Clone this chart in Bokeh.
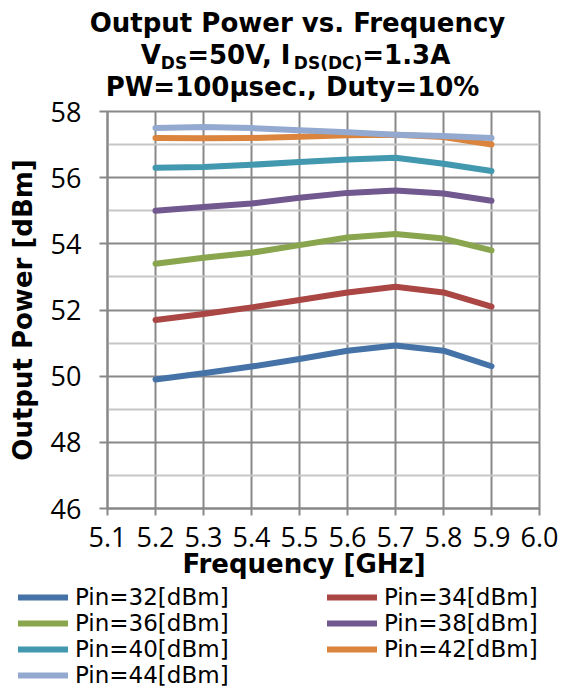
import math
from bokeh.plotting import figure
from bokeh.layouts import column
from bokeh.models import (Range1d, FixedTicker, Label, Legend, LegendItem,
                          PrintfTickFormatter)
from bokeh.embed import file_html
from bokeh.resources import INLINE

# ---------------- data ----------------
freq = [5.2, 5.3, 5.4, 5.5, 5.6, 5.7, 5.8, 5.9]
pin32 = [49.90, 50.09, 50.29, 50.52, 50.77, 50.93, 50.77, 50.30]
pin34 = [51.70, 51.88, 52.08, 52.30, 52.53, 52.70, 52.53, 52.10]
pin36 = [53.40, 53.58, 53.73, 53.96, 54.19, 54.30, 54.16, 53.80]
pin38 = [55.00, 55.11, 55.22, 55.39, 55.54, 55.61, 55.52, 55.30]
pin40 = [56.30, 56.32, 56.39, 56.47, 56.55, 56.60, 56.42, 56.20]
pin42 = [57.20, 57.19, 57.20, 57.24, 57.28, 57.30, 57.23, 57.00]
pin44 = [57.50, 57.53, 57.50, 57.43, 57.37, 57.30, 57.26, 57.20]

series_names = ["Pin=32[dBm]", "Pin=34[dBm]", "Pin=36[dBm]", "Pin=38[dBm]",
                "Pin=40[dBm]", "Pin=42[dBm]", "Pin=44[dBm]"]
series_values = [pin32, pin34, pin36, pin38, pin40, pin42, pin44]
series_colors = ["#4573A7", "#AA4643", "#89A54E", "#71588F",
                 "#4198AF", "#DB843D", "#93A9CF"]

x_ticks = [5.1, 5.2, 5.3, 5.4, 5.5, 5.6, 5.7, 5.8, 5.9, 6.0]
y_ticks = [46, 48, 50, 52, 54, 56, 58]
y_minor = [47, 49, 51, 53, 55, 57]

title_line1 = "Output Power vs. Frequency"
title_line3 = "PW=100\u03bcsec., Duty=10%"
x_title = "Frequency [GHz]"
y_title = "Output Power [dBm]"

# ---------------- layout constants (page pixels) ----------------
W = 569
HA = 104                  # title strip height
B_START = 90              # main chart canvas starts here (overlaps title strip)
FRAME_TOP = 111
B_TOP = FRAME_TOP - B_START
B_BOTTOM = 60
HB = B_TOP + 397 + B_BOTTOM
C_START = 550             # lower strip starts here (overlaps chart's empty bottom)
HC = 689 - C_START
LINE_W = 6
GRID = "#888888"
SHIFT = -9                # Label baseline correction
BOLD = dict(text_font="DejaVu Sans", text_font_style="bold", text_color="black",
            text_baseline="alphabetic", x_units="data", y_units="data")


def strip(height):
    f = figure(width=W, height=height, x_range=Range1d(0, W), y_range=Range1d(height, 0),
               output_backend="svg", toolbar_location=None,
               x_axis_location=None, y_axis_location=None,
               min_border=0, min_border_left=0, min_border_right=0,
               min_border_top=0, min_border_bottom=0)
    f.frame_align = False
    f.outline_line_color = None
    f.xgrid.visible = False
    f.ygrid.visible = False
    f.background_fill_alpha = 0
    f.border_fill_alpha = 0
    return f


# ---------------- title strip ----------------
pa = strip(HA)
pa.add_layout(Label(x=297, y=31.7 + SHIFT, text=title_line1, text_font_size="26px",
                    text_align="center", **BOLD))
pa.add_layout(Label(x=292, y=95 + SHIFT, text=title_line3, text_font_size="26px",
                    text_align="center", **BOLD))
MAIN, SUB = 26, 17
adv = {"V": 0.774, "D": 0.830, "S": 0.720, "=": 0.838, "0": 0.696, "1": 0.696,
       "3": 0.696, "5": 0.696, ",": 0.380, " ": 0.348, "I": 0.372, "(": 0.457,
       ")": 0.457, "C": 0.734, ".": 0.380, "A": 0.774}
pieces = [("V", MAIN, 0), ("DS", SUB, 1), ("=50V, I", MAIN, 0),
          ("DS(DC)", SUB, 1), ("=1.3A", MAIN, 0)]
widths = [sum(adv[c] for c in t) * s for t, s, _ in pieces]
cx = 295 - sum(widths) / 2
for (t, s, sub), w in zip(pieces, widths):
    base = (68.5 if sub else 63.3) + SHIFT * (s / MAIN)
    pa.add_layout(Label(x=cx, y=base, text=t,
                        text_font_size=f"{s}px", text_align="left", **BOLD))
    cx += w

# ---------------- main chart ----------------
p = figure(frame_width=432, frame_height=397,
           x_range=Range1d(5.1, 6.0), y_range=Range1d(46, 58),
           output_backend="svg", toolbar_location=None,
           min_border_left=107, min_border_right=30,
           min_border_top=B_TOP, min_border_bottom=B_BOTTOM)
p.frame_align = False
p.margin = (B_START - HA, 0, 0, 0)
p.background_fill_color = "white"
p.border_fill_alpha = 0

p.outline_line_color = GRID
p.outline_line_width = 2

xt = FixedTicker(ticks=x_ticks)
yt = FixedTicker(ticks=y_ticks, minor_ticks=y_minor)
p.xaxis.ticker = xt
p.yaxis.ticker = yt
p.xgrid.ticker = xt
p.ygrid.ticker = yt
p.xgrid.grid_line_color = GRID
p.xgrid.grid_line_width = 2
p.ygrid.grid_line_color = GRID
p.ygrid.grid_line_width = 2
p.ygrid.minor_grid_line_color = "#C6C6C6"
p.ygrid.minor_grid_line_width = 2

p.xaxis.formatter = PrintfTickFormatter(format="%.1f")
for ax in (p.xaxis, p.yaxis):
    ax.axis_line_color = GRID
    ax.axis_line_width = 2
    ax.major_tick_line_color = GRID
    ax.major_tick_line_width = 2
    ax.major_tick_in = 0
    ax.minor_tick_line_color = None
    ax.minor_tick_in = 0
    ax.minor_tick_out = 0
    ax.major_label_text_font = "Open Sans"
    ax.major_label_text_font_size = "27px"
    ax.major_label_text_color = "black"
p.xaxis.major_tick_out = 7
p.yaxis.major_tick_out = 8
p.xaxis.major_label_standoff = 11
p.yaxis.major_label_standoff = 18

p.yaxis.axis_label = y_title
p.yaxis.axis_label_text_font = "DejaVu Sans"
p.yaxis.axis_label_text_font_style = "bold"
p.yaxis.axis_label_text_font_size = "26px"
p.yaxis.axis_label_text_color = "black"
p.yaxis.axis_label_standoff = 10

for vals, col in zip(series_values, series_colors):
    p.line(freq, vals, line_width=LINE_W, color=col, line_cap="round", line_join="round")

# ---------------- x title + legend strip ----------------
pc = strip(HC)
pc.margin = (C_START - (B_START + HB), 0, 0, 0)
pc.add_layout(Label(x=303.5, y=572 - C_START + SHIFT, text=x_title,
                    text_font_size="26px", text_align="center", **BOLD))
leg_renderers = []
for vals, col in zip(series_values, series_colors):
    r = pc.line(freq, vals, line_width=LINE_W, color=col, line_cap="round")
    r.visible = False
    leg_renderers.append(r)
items = [LegendItem(label=n, renderers=[r]) for n, r in zip(series_names, leg_renderers)]
ROW = 26
common = dict(glyph_width=50, glyph_height=ROW, label_height=ROW, label_standoff=7,
              spacing=0, padding=0, margin=0, border_line_alpha=0,
              background_fill_alpha=0, label_text_font="DejaVu Sans",
              label_text_font_size="23px", label_text_color="black",
              label_text_baseline="middle", click_policy="none")
leg_top = 584 - C_START
leg1 = Legend(items=items[0::2], location=(18, HC - (leg_top + 4 * ROW)), **common)
leg2 = Legend(items=items[1::2], location=(327, HC - (leg_top + 3 * ROW)), **common)
pc.add_layout(leg1)
pc.add_layout(leg2)

layout = column(pa, p, pc, spacing=0)
open("out.html", "w").write(file_html(layout, INLINE))
